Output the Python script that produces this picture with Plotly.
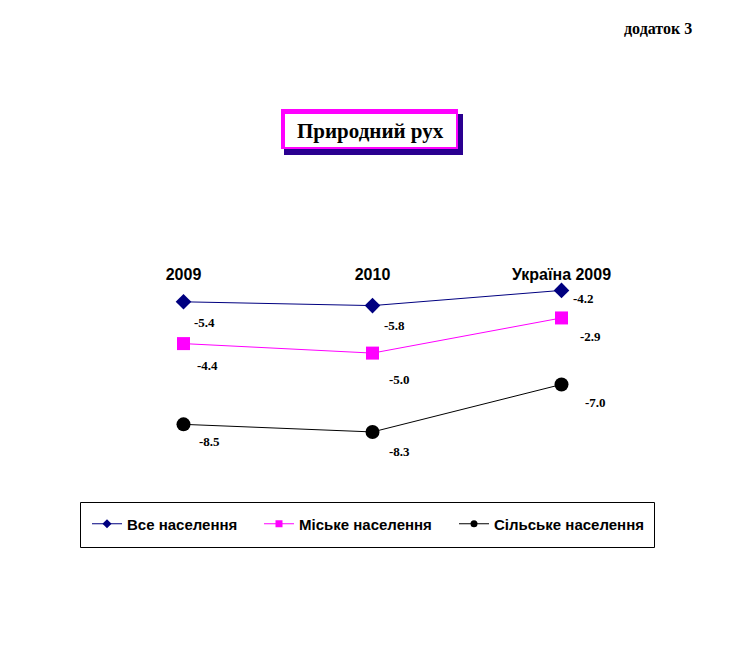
import plotly.graph_objects as go

# categories and series (stacked line chart, labels show own values)
years = ['2009', '2010', 'Україна 2009']
all_pop = [-5.4, -5.8, -4.2]
urban_pop = [-4.4, -5.0, -2.9]
rural_pop = [-8.5, -8.3, -7.0]
names = ['Все населення', 'Міське населення', 'Сільське населення']

# page body has an 8px margin, so the figure is drawn 8px in
OFF = 8
W, H = 737 - 2 * OFF, 657 - 2 * OFF
L, R, T, B = 89 - OFF, 81 - OFF, 284 - OFF, 197 - OFF
plot_w = W - L - R
plot_h = H - T - B


def px_x(px):
    return (px - OFF - L) / plot_w


def px_y(py):
    return (H - B - (py - OFF)) / plot_h


def box(x0, y0, x1, y1, fill):
    return dict(type='rect', xref='paper', yref='paper',
                x0=px_x(x0), x1=px_x(x1), y0=px_y(y1), y1=px_y(y0),
                fillcolor=fill, line=dict(width=0), layer='above')


series = [
    (all_pop, '#000080', 'diamond', 12, 7),
    (urban_pop, '#FF00FF', 'square', 13, 7),
    (rural_pop, '#000000', 'circle', 14, 7),
]

# label offsets (px) right/down from each marker
offsets = [
    [(21, 21), (22, 20), (22, 8)],
    [(24, 22), (27, 26), (29, 19)],
    [(26, 17), (27, 20), (34, 18)],
]

# left edge (px) of each legend entry
legend_left = [87, 259, 454]

x_idx = list(range(len(years)))

fig = go.Figure()
running = [0.0] * len(years)
annotations = []
legends = {}
for k, ((vals, col, sym, size, lsize), name, offs) in enumerate(zip(series, names, offsets)):
    fig.add_trace(go.Scatter(
        x=x_idx, y=vals, stackgroup='one', fill='none', name=name,
        mode='lines+markers', line=dict(color=col, width=1),
        marker=dict(symbol=sym, size=size, color=col),
        cliponaxis=False, showlegend=False, hoverinfo='skip'))
    # legend entry with small marker, like the Excel legend
    lg = 'legend' if k == 0 else f'legend{k + 1}'
    fig.add_trace(go.Scatter(
        x=[None], y=[None], name=f'<b>{name}</b>', mode='lines+markers',
        line=dict(color=col, width=1), legend=lg,
        marker=dict(symbol=sym, size=lsize, color=col)))
    legends[lg] = dict(
        orientation='h', x=px_x(legend_left[k]), y=px_y(524),
        xanchor='left', yanchor='middle',
        borderwidth=0, bgcolor='rgba(0,0,0,0)',
        font=dict(family='Liberation Sans', size=15, color='black'),
        itemclick=False)
    running = [r + v for r, v in zip(running, vals)]
    for i, v in enumerate(vals):
        annotations.append(dict(
            x=i, y=running[i], xref='x', yref='y', text=f'<b>{v:.1f}</b>',
            showarrow=False, xshift=offs[i][0], yshift=-offs[i][1],
            xanchor='center', yanchor='middle',
            font=dict(family='Liberation Serif', size=13, color='black')))

shapes = [
    # title box: dark shadow, magenta frame, white inside
    box(284, 114, 463, 155, '#2a0090'),
    box(281, 109, 458, 149, '#FF00FF'),
    box(285, 114, 456, 147, 'white'),
    # legend frame
    dict(type='rect', xref='paper', yref='paper',
         x0=px_x(80.5), x1=px_x(654.5), y0=px_y(547.5), y1=px_y(502.5),
         line=dict(color='black', width=1), layer='below'),
]

annotations.append(dict(
    x=px_x(370), y=px_y(131), xref='paper', yref='paper',
    xanchor='center', yanchor='middle',
    text='<b>Природний рух</b>', showarrow=False,
    font=dict(family='Liberation Serif', size=21, color='black')))
annotations.append(dict(
    x=px_x(658), y=px_y(28), xref='paper', yref='paper',
    xanchor='center', yanchor='middle',
    text='<b>додаток 3</b>', showarrow=False,
    font=dict(family='Liberation Serif', size=16, color='black')))

fig.update_layout(
    width=W, height=H,
    margin=dict(l=L, r=R, t=T, b=B),
    paper_bgcolor='white', plot_bgcolor='white',
    showlegend=True,
    xaxis=dict(
        range=[-0.5, 2.5], side='top',
        tickvals=x_idx, ticktext=[f'<b>{y}</b>' for y in years],
        showgrid=False, zeroline=False, showline=False, ticks='',
        tickfont=dict(family='Liberation Sans', size=16, color='black')),
    yaxis=dict(
        range=[-(H - B - (250.5 - OFF)) / 9.5, -(T - (250.5 - OFF)) / 9.5],
        visible=False, showgrid=False, zeroline=False),
    shapes=shapes,
    annotations=annotations,
    **legends,
)

fig.write_html("out.html")
